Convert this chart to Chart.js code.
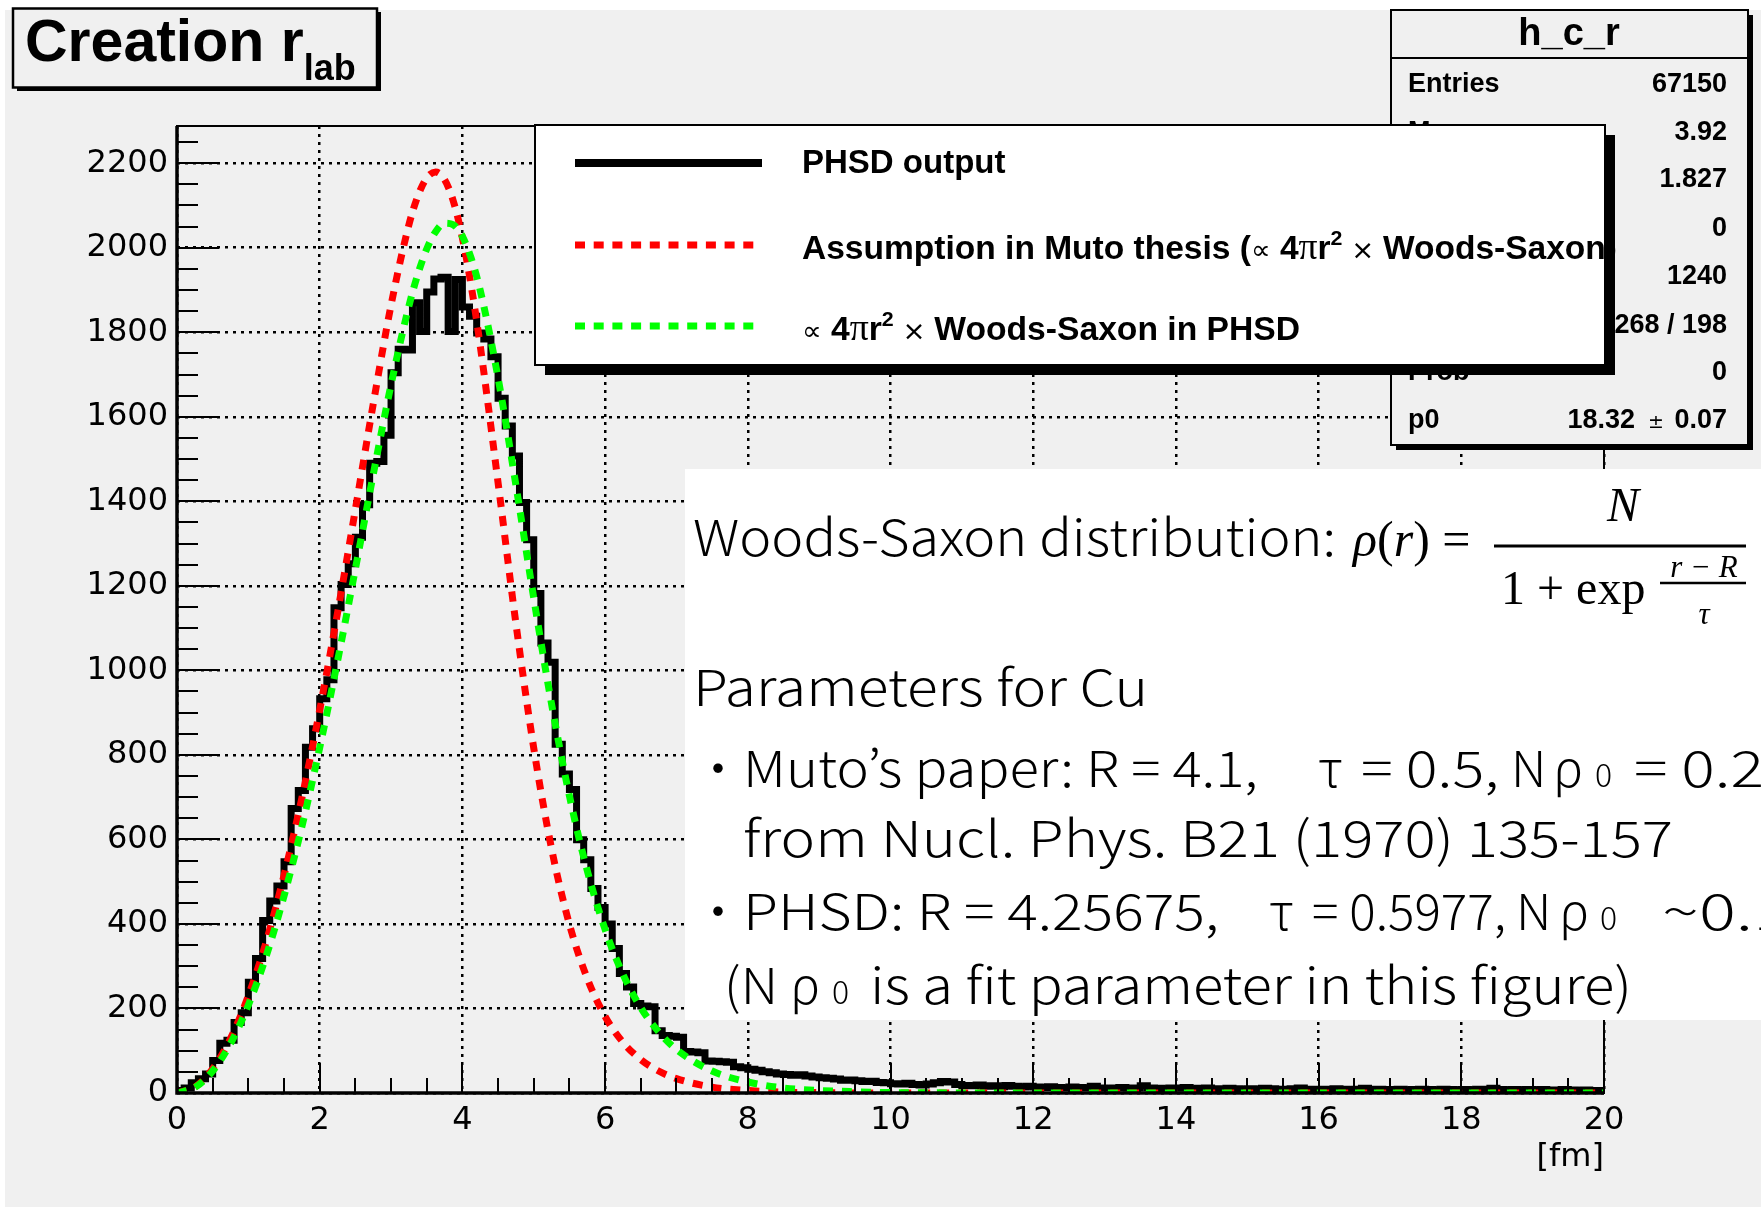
<!DOCTYPE html>
<html>
<head>
<meta charset="utf-8">
<title>Creation r_lab</title>
<script src="https://cdn.jsdelivr.net/npm/chart.js@4.4.1/dist/chart.umd.min.js"></script>
<style>
  html, body { margin: 0; padding: 0; background: #ffffff; }
  #page { position: relative; width: 1761px; height: 1207px; overflow: hidden; background: #ffffff; }
  #pad { position: absolute; left: 5px; top: 10px; width: 1756px; height: 1197px; background: #f0f0f0; }
  #chart { position: absolute; left: 0; top: 0; }
  #overlay { position: absolute; left: 0; top: 0; }
  .rb { font-family: "Liberation Sans", Arial, sans-serif; font-weight: bold; }
  .jp { font-family: "Noto Sans CJK JP", "Noto Sans", sans-serif; font-weight: 300; }
  .tm { font-family: "Liberation Serif", "Times New Roman", serif; }
  .sy { font-family: "DejaVu Sans", sans-serif; font-weight: normal; }
</style>
</head>
<body>
<div id="page">
  <div id="pad"></div>
  <canvas id="chart" width="1761" height="1207"></canvas>

  <svg id="overlay" width="1761" height="1207" xmlns="http://www.w3.org/2000/svg">
    <!-- title box -->
    <rect x="17" y="12" width="364" height="79" fill="#000"/>
    <rect x="13" y="8.5" width="364" height="79" fill="#f0f0f0" stroke="#000" stroke-width="2.5"/>
    <text class="rb" x="25" y="61" font-size="59">Creation r<tspan font-size="36" dy="19">lab</tspan></text>

    <!-- stats box -->
    <rect x="1396" y="15" width="357" height="435" fill="#000"/>
    <rect x="1391" y="10" width="357" height="435" fill="#f0f0f0" stroke="#000" stroke-width="2"/>
    <line x1="1391" y1="58" x2="1748" y2="58" stroke="#000" stroke-width="2"/>
    <text class="rb" x="1569" y="45" font-size="38" text-anchor="middle">h_c_r</text>
    <g class="rb" font-size="27">
      <text x="1408" y="92">Entries</text><text x="1727" y="92" text-anchor="end">67150</text>
      <text x="1408" y="140">Mean</text><text x="1727" y="140" text-anchor="end">3.92</text>
      <text x="1408" y="187">RMS</text><text x="1727" y="187" text-anchor="end">1.827</text>
      <text x="1408" y="236">Underflow</text><text x="1727" y="236" text-anchor="end">0</text>
      <text x="1408" y="284">Overflow</text><text x="1727" y="284" text-anchor="end">1240</text>
      <text x="1408" y="333">χ² / ndf</text><text x="1727" y="333" text-anchor="end">268 / 198</text>
      <text x="1408" y="380">Prob</text><text x="1727" y="380" text-anchor="end">0</text>
      <text x="1408" y="428">p0</text>
      <text x="1635" y="428" text-anchor="end">18.32</text>
      <text x="1648" y="428" class="sy" font-size="19">±</text>
      <text x="1727" y="428" text-anchor="end">0.07</text>
    </g>

    <!-- legend -->
    <rect x="545" y="135" width="1070" height="240" fill="#000"/>
    <rect x="535" y="125" width="1070" height="240" fill="#ffffff" stroke="#000" stroke-width="2"/>
    <line x1="575" y1="163" x2="762" y2="163" stroke="#000" stroke-width="8"/>
    <line x1="575" y1="245" x2="756" y2="245" stroke="#ff0000" stroke-width="7" stroke-dasharray="10 8.7"/>
    <line x1="575" y1="326" x2="756" y2="326" stroke="#00ff00" stroke-width="7" stroke-dasharray="10 8.7"/>
    <g class="rb" font-size="33">
      <text x="802" y="173">PHSD output</text>
      <text x="802" y="259" textLength="815" lengthAdjust="spacingAndGlyphs">Assumption in Muto thesis (<tspan class="sy" font-size="27">∝</tspan> 4<tspan class="tm" font-weight="normal" font-size="37">π</tspan>r<tspan font-size="21" dy="-14">2</tspan><tspan dy="14" class="sy" font-size="27"> × </tspan>Woods-Saxon)</text>
      <text x="802" y="340" textLength="498" lengthAdjust="spacingAndGlyphs"><tspan class="sy" font-size="27">∝</tspan> 4<tspan class="tm" font-weight="normal" font-size="37">π</tspan>r<tspan font-size="21" dy="-14">2</tspan><tspan dy="14" class="sy" font-size="27"> × </tspan>Woods-Saxon in PHSD</text>
    </g>

    <!-- note box -->
    <rect x="685" y="469" width="1076" height="551" fill="#ffffff"/>
    <g class="jp" font-size="50" fill="#000">
      <text x="693" y="556" textLength="643" lengthAdjust="spacingAndGlyphs">Woods-Saxon distribution:</text>
      <text x="693" y="706" textLength="455" lengthAdjust="spacingAndGlyphs">Parameters for Cu</text>

      <text x="693" y="787">・</text>
      <text x="743" y="787" textLength="515" lengthAdjust="spacingAndGlyphs">Muto’s paper: R = 4.1,</text>
      <text x="1318" y="787">τ</text>
      <text x="1361" y="787" textLength="138" lengthAdjust="spacingAndGlyphs">= 0.5,</text>
      <text x="1511" y="787">N</text>
      <text x="1553" y="787">ρ</text>
      <text x="1595" y="787" font-size="32">0</text>
      <text x="1634" y="787" textLength="130" lengthAdjust="spacingAndGlyphs">= 0.2</text>

      <text x="743" y="857" textLength="930" lengthAdjust="spacingAndGlyphs">from Nucl. Phys. B21 (1970) 135-157</text>

      <text x="693" y="930">・</text>
      <text x="743" y="930" textLength="476" lengthAdjust="spacingAndGlyphs">PHSD: R = 4.25675,</text>
      <text x="1269" y="930">τ</text>
      <text x="1312" y="930" textLength="194" lengthAdjust="spacingAndGlyphs">= 0.5977,</text>
      <text x="1516" y="930">N</text>
      <text x="1559" y="930">ρ</text>
      <text x="1600" y="930" font-size="32">0</text>
      <text x="1662" y="930" textLength="128" lengthAdjust="spacingAndGlyphs">~0.1</text>

      <text x="724" y="1004" textLength="54" lengthAdjust="spacingAndGlyphs">(N</text>
      <text x="790" y="1004">ρ</text>
      <text x="832" y="1004" font-size="32">0</text>
      <text x="870" y="1004" textLength="762" lengthAdjust="spacingAndGlyphs">is a fit parameter in this figure)</text>
    </g>
    <g class="tm" fill="#000">
      <text x="1353" y="556" font-size="50"><tspan font-style="italic">ρ</tspan>(<tspan font-style="italic">r</tspan>) =</text>
      <text x="1623" y="521" font-size="48" font-style="italic" text-anchor="middle">N</text>
      <line x1="1494" y1="546" x2="1746" y2="546" stroke="#000" stroke-width="3"/>
      <text x="1501" y="604" font-size="48">1 + exp</text>
      <text x="1704" y="577" font-size="31" font-style="italic" text-anchor="middle">r − R</text>
      <line x1="1660" y1="583" x2="1746" y2="583" stroke="#000" stroke-width="2.5"/>
      <text x="1704" y="624" font-size="31" font-style="italic" text-anchor="middle">τ</text>
    </g>
  </svg>
</div>

<script>
// histogram h_c_r : 200 bins of 0.1 fm from 0 to 20
var binWidth = 0.1;
var histCounts = [
    6, 12, 24, 34, 45, 77, 118, 125, 167, 190,
    262, 318, 408, 454, 490, 547, 673, 716, 818, 862,
    933, 978, 1148, 1203, 1252, 1315, 1392, 1490, 1494, 1556,
    1704, 1760, 1758, 1870, 1802, 1895, 1926, 1930, 1802, 1925,
    1860, 1838, 1798, 1784, 1742, 1644, 1578, 1507, 1397, 1309,
    1182, 1065, 1019, 825, 755, 718, 599, 552, 484, 439,
    400, 342, 283, 251, 212, 206, 204, 147, 136, 134,
    132, 98, 97, 95, 76, 75, 74, 73, 62, 60,
    56, 54, 50, 48, 45, 44, 42, 43, 40, 38,
    36, 35, 33, 30, 31, 29, 27, 28, 25, 24,
    22, 21, 23, 20, 19, 21, 24, 27, 26, 20,
    18, 17, 19, 16, 17, 15, 18, 16, 14, 16,
    14, 13, 15, 13, 12, 14, 13, 12, 16, 12,
    11, 12, 13, 11, 12, 17, 12, 11, 10, 12,
    11, 13, 10, 11, 12, 10, 9, 11, 10, 9,
    10, 9, 11, 10, 8, 9, 10, 12, 9, 8,
    9, 8, 10, 9, 8, 9, 11, 8, 9, 8,
    8, 9, 7, 8, 9, 8, 7, 9, 8, 7,
    8, 7, 9, 8, 11, 8, 7, 8, 7, 8,
    7, 8, 6, 7, 8, 7, 6, 7, 6, 6
];

// the two dotted curves, read at these r values
var fitR = [0, 0.25, 0.5, 0.75, 1, 1.25, 1.5, 1.75, 2, 2.25, 2.5, 2.75, 3, 3.25, 3.375, 3.5, 3.625, 3.75, 3.875, 4,
    4.125, 4.25, 4.5, 4.75, 5, 5.25, 5.5, 5.75, 6, 6.25, 6.5, 6.75, 7, 7.5, 8, 8.5, 9, 9.5, 10, 12, 14, 16, 18, 20];
var mutoFit = [0, 14, 57, 129, 230, 358, 515, 698, 906, 1136, 1381, 1630, 1864, 2054, 2122, 2165, 2179, 2161, 2109, 2023,
    1908, 1768, 1444, 1111, 816, 578, 399, 271, 181, 120, 79, 52, 34, 14, 6, 2, 1, 0, 0, 0, 0, 0, 0, 0];
var phsdFit = [0, 13, 52, 117, 208, 324, 466, 630, 817, 1022, 1240, 1463, 1676, 1862, 1937, 1997, 2038, 2058, 2054, 2027,
    1974, 1899, 1692, 1438, 1171, 920, 703, 526, 387, 281, 202, 145, 103, 52, 26, 12, 6, 3, 1, 0, 0, 0, 0, 0];

var xTickLabels = ['0', '2', '4', '6', '8', '10', '12', '14', '16', '18', '20'];
var yTickLabels = ['0', '200', '400', '600', '800', '1000', '1200', '1400', '1600', '1800', '2000', '2200'];
var yMax = 2288;

var histPoints = [{ x: 0, y: 0 }];
histCounts.forEach(function (c, i) {
    histPoints.push({ x: i * binWidth, y: c });
});
histPoints.push({ x: histCounts.length * binWidth, y: histCounts[histCounts.length - 1] });

var mutoPoints = fitR.map(function (r, i) { return { x: r, y: mutoFit[i] }; });
var phsdPoints = fitR.map(function (r, i) { return { x: r, y: phsdFit[i] }; });

// ROOT style frame: ticks pointing into the frame, major + minor
var rootFrame = {
    id: 'rootFrame',
    afterDatasetsDraw: function (chart) {
        var ctx = chart.ctx;
        var a = chart.chartArea;
        var xs = chart.scales.x;
        var ys = chart.scales.y;
        ctx.save();
        ctx.strokeStyle = '#000';
        ctx.lineWidth = 2;
        ctx.beginPath();
        for (var v = 0; v <= yMax; v += 50) {
            var py = Math.round(ys.getPixelForValue(v));
            var len = v % 200 === 0 ? 42 : 21;
            ctx.moveTo(a.left, py);
            ctx.lineTo(a.left + len, py);
        }
        for (var k = 0; k <= 40; k++) {
            var px = Math.round(xs.getPixelForValue(k * 0.5));
            var tl = k % 4 === 0 ? 30 : 15;
            ctx.moveTo(px, a.bottom);
            ctx.lineTo(px, a.bottom - tl);
        }
        ctx.stroke();
        ctx.strokeRect(a.left, a.top, a.right - a.left, a.bottom - a.top);
        ctx.lineWidth = 3.5;
        ctx.beginPath();
        ctx.moveTo(a.left, a.top);
        ctx.lineTo(a.left, a.bottom);
        ctx.lineTo(a.right, a.bottom);
        ctx.stroke();
        ctx.restore();
    }
};

var tickFont = { family: 'DejaVu Sans', size: 32 };

var myChart = new Chart(document.getElementById('chart').getContext('2d'), {
    type: 'line',
    data: {
        datasets: [{
            label: '\u221d 4\u03c0r\u00b2 \u00d7 Woods-Saxon in PHSD',
            data: phsdPoints,
            borderColor: '#00ff00',
            borderWidth: 7,
            borderDash: [10, 9],
            pointRadius: 0,
            cubicInterpolationMode: 'monotone',
            fill: false,
            clip: 0,
            order: 1
        }, {
            label: 'Assumption in Muto thesis',
            data: mutoPoints,
            borderColor: '#ff0000',
            borderWidth: 7,
            borderDash: [10, 9],
            pointRadius: 0,
            cubicInterpolationMode: 'monotone',
            fill: false,
            clip: 0,
            order: 2
        }, {
            label: 'PHSD output',
            data: histPoints,
            borderColor: '#000000',
            borderWidth: 7,
            stepped: 'before',
            borderJoinStyle: 'miter',
            pointRadius: 0,
            fill: false,
            clip: 0,
            order: 3
        }]
    },
    options: {
        responsive: false,
        animation: false,
        events: [],
        layout: { padding: { left: 0, top: 126, right: 157, bottom: 0 } },
        plugins: {
            legend: { display: false },
            tooltip: { enabled: false }
        },
        scales: {
            x: {
                type: 'linear',
                min: 0,
                max: 20,
                afterFit: function (s) { s.height = 114; },
                ticks: {
                    stepSize: 2,
                    includeBounds: false,
                    autoSkip: false,
                    maxRotation: 0,
                    padding: 8,
                    color: '#000',
                    font: tickFont,
                    callback: function (v, i) { return xTickLabels[i]; }
                },
                grid: { color: '#000', lineWidth: 2.5, drawTicks: false },
                border: { display: false, dash: [3, 5] },
                title: {
                    display: true,
                    text: '[fm]',
                    align: 'end',
                    color: '#000',
                    font: tickFont,
                    padding: { top: 0, bottom: 30 }
                }
            },
            y: {
                type: 'linear',
                min: 0,
                max: yMax,
                afterFit: function (s) { s.width = 177; },
                ticks: {
                    stepSize: 200,
                    includeBounds: false,
                    autoSkip: false,
                    padding: 9,
                    color: '#000',
                    font: tickFont,
                    callback: function (v, i) { return yTickLabels[i]; }
                },
                grid: { color: '#000', lineWidth: 2.5, drawTicks: false },
                border: { display: false, dash: [3, 5] }
            }
        }
    },
    plugins: [rootFrame]
});
</script>
</body>
</html>
